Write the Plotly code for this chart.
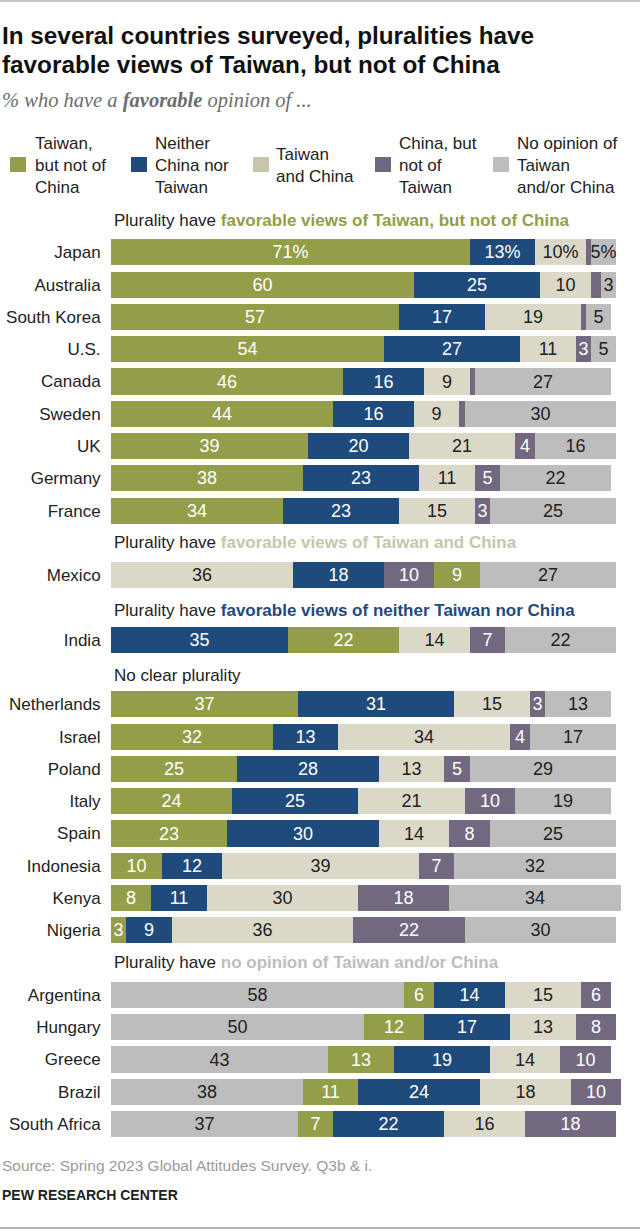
import plotly.graph_objects as go

countries = ["Japan","Australia","South Korea","U.S.","Canada","Sweden","UK","Germany","France",
             "Mexico","India",
             "Netherlands","Israel","Poland","Italy","Spain","Indonesia","Kenya","Nigeria",
             "Argentina","Hungary","Greece","Brazil","South Africa"]
rows = [1,2,3,4,5,6,7,8,9, 11, 13, 15,16,17,18,19,20,21,22, 24,25,26,27,28]
taiwan_only = [71,60,57,54,46,44,39,38,34, 9, 22, 37,32,25,24,23,10,8,3, 6,12,13,11,7]
neither =     [13,25,17,27,16,16,20,23,23, 18, 35, 31,13,28,25,30,12,11,9, 14,17,19,24,22]
both =        [10,10,19,11,9,9,21,11,15, 36, 14, 15,34,13,21,14,39,30,36, 15,13,14,18,16]
china_only =  [1,2,1,3,1,1,4,5,3, 10, 7, 3,4,5,10,8,7,18,22, 6,8,10,10,18]
no_opinion =  [5,3,5,5,27,30,16,22,25, 27, 22, 13,17,29,19,25,32,34,30, 58,50,43,38,37]
stack_group = ["T"]*9 + ["M"] + ["I"] + ["T"]*8 + ["N"]*5

series_names = ["Taiwan, but not of China","Neither China nor Taiwan","Taiwan and China",
                "China, but not of Taiwan","No opinion of Taiwan and/or China"]
series_values = [taiwan_only, neither, both, china_only, no_opinion]
OLIVE, NAVY, TAN, PURPLE, GRAY = "#949d48", "#1f4a7c", "#dbd8c8", "#726880", "#bdbdbd"
series_colors = [OLIVE, NAVY, TAN, PURPLE, GRAY]
text_colors = ["#ffffff","#ffffff","#222222","#ffffff","#222222"]
orders = {"T":[0,1,2,3,4], "M":[2,1,3,0,4], "I":[1,0,2,3,4], "N":[4,0,1,2,3]}

legend_labels = ["Taiwan,<br>but not of<br>China","Neither<br>China nor<br>Taiwan","Taiwan<br>and China",
                 "China, but<br>not of<br>Taiwan","No opinion of<br>Taiwan<br>and/or China"]
legend_swatch_colors = ["#949d48","#1f4a7c","#c9c5ab","#6f6680","#bdbdbd"]
legend_swatch_x = [10,131,253,375,493]
legend_text_x = [33,153,274,397,515]

headers = [
    (220, "favorable views of Taiwan, but not of China", OLIVE, "Plurality have "),
    (543, "favorable views of Taiwan and China", "#c9c5ab", "Plurality have "),
    (610, "favorable views of neither Taiwan nor China", NAVY, "Plurality have "),
    (675, "", NAVY, "No clear plurality"),
    (962, "no opinion of Taiwan and/or China", "#bdbdbd", "Plurality have "),
]

BODY = "Liberation Sans, Arial, sans-serif"
W, H = 640, 1231
X0 = 111; PXU = 5.05; Y0 = 220; PXR = 32.29

fig = go.Figure()
for g, order in orders.items():
    idx = [i for i, s in enumerate(stack_group) if s == g]
    for k in order:
        vals = [series_values[k][i] for i in idx]
        txt = []
        for i in idx:
            v = series_values[k][i]
            t = "" if v < 3 else (f"{v}%" if countries[i] == "Japan" else str(v))
            txt.append(t)
        fig.add_trace(go.Bar(
            x=vals, y=[rows[i] for i in idx], orientation="h",
            name=series_names[k], showlegend=False,
            marker=dict(color=series_colors[k], line=dict(width=0)),
            width=0.81, text=txt, textposition="inside", insidetextanchor="middle",
            textangle=0, constraintext="none", cliponaxis=False,
            textfont=dict(color=text_colors[k], size=18, family=BODY),
            hovertemplate="%{y}: %{x}<extra></extra>",
        ))

ann = []
def note(x, y, text, size=17, color="#222222", family=BODY, align="left", anchor="middle"):
    ann.append(dict(xref="paper", yref="paper", x=x/W, y=1-y/H, text=text, showarrow=False,
                    xanchor="left", yanchor=anchor, align=align,
                    font=dict(size=size, color=color, family=family)))

note(0, 35, "<b>In several countries surveyed, pluralities have</b>", size=24.3, color="#111111")
note(0, 65, "<b>favorable views of Taiwan, but not of China</b>", size=24.3, color="#111111")
note(0, 101, "<i>% who have a <b>favorable</b> opinion of ...</i>", size=20.5, color="#6d6d6d",
     family="Liberation Serif, serif")
for lab, tx in zip(legend_labels, legend_text_x):
    note(tx, 165.5, lab, size=17, color="#222222")
for y, bold, col, lead in headers:
    note(112, y, lead + (f'<b><span style="color:{col}">{bold}</span></b>' if bold else ""), size=17)
note(0, 1165, "Source: Spring 2023 Global Attitudes Survey. Q3b &amp; i.", size=15.5, color="#9a9a9a")
note(0, 1195, "<b>PEW RESEARCH CENTER</b>", size=14, color="#222222")

shapes = [
    dict(type="line", xref="paper", yref="paper", x0=0, x1=1, y0=1-1/H, y1=1-1/H,
         line=dict(color="#8c8c8c", width=1)),
    dict(type="line", xref="paper", yref="paper", x0=0, x1=1, y0=1-1228/H, y1=1-1228/H,
         line=dict(color="#666666", width=1)),
]
for sx, c in zip(legend_swatch_x, legend_swatch_colors):
    shapes.append(dict(type="rect", xref="paper", yref="paper", x0=sx/W, x1=(sx+16)/W,
                       y0=1-172/H, y1=1-157/H, fillcolor=c, line=dict(width=0)))

fig.update_layout(
    width=W, height=H, margin=dict(l=0, r=0, t=0, b=0),
    paper_bgcolor="white", plot_bgcolor="white", barmode="stack", bargap=0,
    annotations=ann, shapes=shapes, showlegend=False,
    xaxis=dict(domain=[X0/W, 1], range=[0, (W-X0)/PXU], visible=False, fixedrange=True),
    yaxis=dict(domain=[0, 1], range=[(H-Y0)/PXR, -Y0/PXR], tickmode="array", tickvals=rows,
               ticktext=countries, showgrid=False, zeroline=False, showline=False,
               ticks="outside", ticklen=6, tickcolor="rgba(0,0,0,0)", automargin=False,
               tickfont=dict(size=17, color="#222222", family=BODY), fixedrange=True),
)
fig.write_html("out.html", config={"displayModeBar": False},
               post_script="document.body.style.margin='0';")
